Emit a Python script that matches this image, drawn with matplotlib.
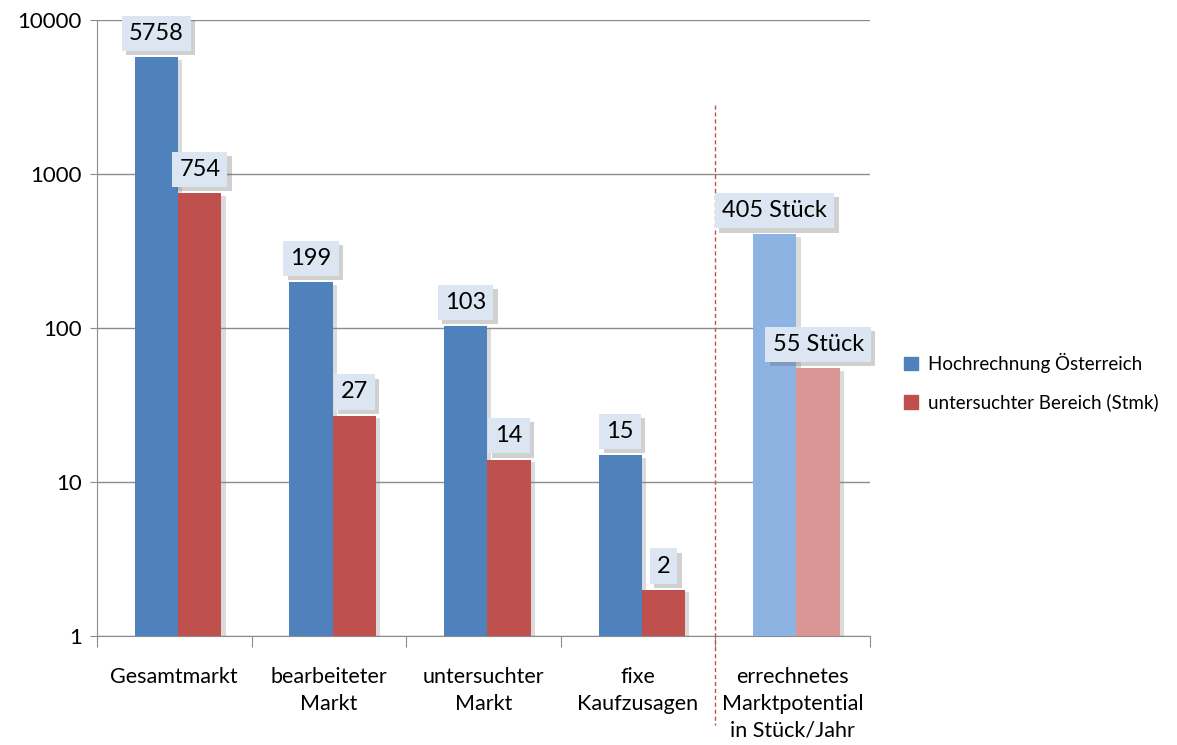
import matplotlib.pyplot as plt
import matplotlib.transforms as mtransforms
import matplotlib.patheffects as pe
import numpy as np

plt.rcParams['font.family'] = ['Lato', 'DejaVu Sans']

categories = ['Gesamtmarkt', 'bearbeiteter\nMarkt', 'untersuchter\nMarkt',
              'fixe\nKaufzusagen', 'errechnetes\nMarktpotential\nin Stück/Jahr']
oesterreich = [5758, 199, 103, 15, 405]
stmk = [754, 27, 14, 2, 55]
label_suffix = ['', '', '', '', ' Stück']
series_names = ['Hochrechnung Österreich', 'untersuchter Bereich (Stmk)']
y_ticks = [1, 10, 100, 1000, 10000]

blue = ['#4f81bd'] * 4 + ['#8db3e2']
red = ['#c0504d'] * 4 + ['#d99694']

fig = plt.figure(figsize=(11.77, 7.45), dpi=100)
ax = fig.add_axes([0.0824, 0.1463, 0.6567, 0.8268])

x = np.arange(len(categories))
w = 0.28
off = 0.025
shadow = [pe.SimplePatchShadow(offset=(3, -2), shadow_rgbFace='#888888', alpha=0.3), pe.Normal()]

bars_b = ax.bar(x + off - w / 2, oesterreich, w, color=blue, zorder=3, label=series_names[0])
bars_r = ax.bar(x + off + w / 2, stmk, w, color=red, zorder=3, label=series_names[1])
for b in list(bars_b) + list(bars_r):
    b.set_path_effects(shadow)

ax.set_yscale('log')
ax.set_ylim(1, 10000)
ax.set_xlim(-0.5, len(categories) - 0.5)
ax.set_yticks(y_ticks)
ax.set_yticklabels([str(t) for t in y_ticks], fontsize=16)
ax.minorticks_off()
ax.yaxis.grid(True, color='#8c8c8c', linewidth=1)
ax.set_axisbelow(True)

# group boundaries as x ticks, category names centered between them
ax.set_xticks(np.arange(len(categories) + 1) - 0.5)
ax.set_xticklabels([])
ax.set_xticks(x, minor=True)
ax.set_xticklabels(categories, minor=True, fontsize=15.5, linespacing=1.45, va='top')
ax.tick_params(axis='x', which='minor', length=0, pad=22)
ax.tick_params(axis='x', which='major', length=8, color='#8c8c8c', direction='out')
ax.tick_params(axis='y', length=5, color='#8c8c8c', pad=6)

for s in ['top', 'right']:
    ax.spines[s].set_visible(False)
for s in ['left', 'bottom']:
    ax.spines[s].set_color('#8c8c8c')

# value labels in shaded boxes
box_shadow = [pe.SimplePatchShadow(offset=(3, -3), shadow_rgbFace='#666666', alpha=0.3), pe.Normal()]
for i in range(len(categories)):
    for xi, v in [(x[i] + off - w / 2, oesterreich[i]), (x[i] + off + w / 2, stmk[i])]:
        t = ax.annotate(f'{v}{label_suffix[i]}', (xi, v), xytext=(0, 17), textcoords='offset points',
                        ha='center', va='center', fontsize=17, zorder=5,
                        bbox=dict(boxstyle='square,pad=0.3', facecolor='#dce6f2', edgecolor='none'))
        t.get_bbox_patch().set_path_effects(box_shadow)

# separator between surveyed values and the computed potential
trans = mtransforms.blended_transform_factory(ax.transData, ax.transAxes)
ax.plot([3.5, 3.5], [0.862, -0.145], transform=trans, color='#c0504d', linestyle=(0, (3, 2)),
        linewidth=1, clip_on=False, zorder=4)

leg = ax.legend(handles=[bars_b[0], bars_r[0]], labels=series_names, loc='center left',
                bbox_to_anchor=(1.03, 0.412), frameon=False, fontsize=13.5,
                handlelength=0.75, handleheight=0.75, handletextpad=0.5, labelspacing=1.1,
                borderaxespad=0.2)
for h, c in zip(leg.legend_handles, ['#4f81bd', '#c0504d']):
    h.set_color(c)
    h.set_path_effects([])

fig.savefig('out.png', dpi=100)
